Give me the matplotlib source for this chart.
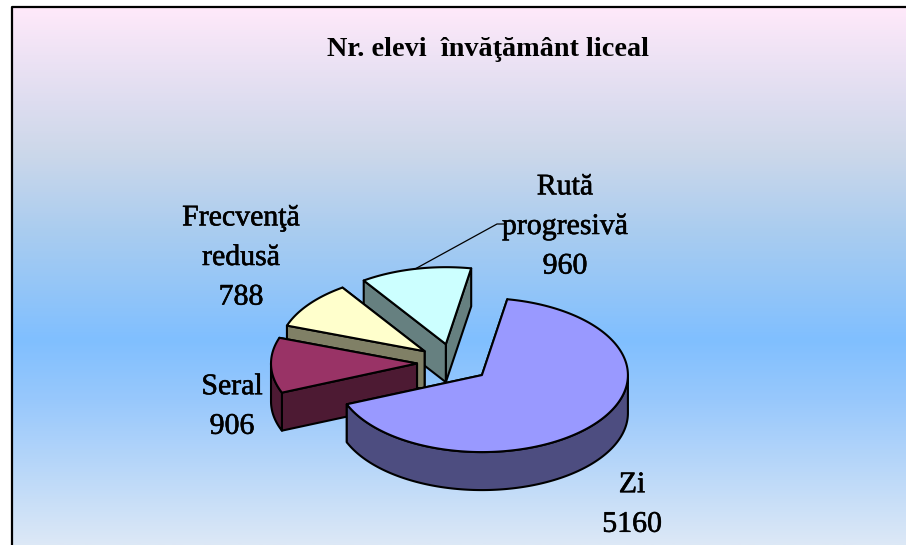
"""Exploded 3D-look pie of high school student numbers."""

import numpy as np
import matplotlib
matplotlib.use('Agg')
import matplotlib.pyplot as plt
import matplotlib.patheffects as pe
from matplotlib.colors import LinearSegmentedColormap
from matplotlib.patches import Polygon

# Data
categories = ['Zi', 'Seral', 'Frecvenţă\nredusă', 'Rută\nprogresivă']
values = [5160, 906, 788, 960]
top_colors = ['#9999FF', '#993366', '#FFFFCC', '#CCFFFF']
side_colors = ['#4D4D80', '#4D1A33', '#808066', '#668080']
title = 'Nr. elevi  învăţământ liceal'

# Pie geometry, in pixels
W, H = 906, 545
CX, CY = 453.5, 363 #center of unexploded pie
RX, RY = 146, 77    #ellipse radii
DEPTH = 38          #height of the pie
EXPLODE = 0.25      #offset of each slice, fraction of radius
START = 80          #start angle, slices run clockwise

plt.rcParams['font.family'] = ['Liberation Serif', 'DejaVu Serif']


def EllipsePoints(cx, cy, a1, a2):
    """Points on the slice arc between angles a1 and a2 (degrees).
    """
    n = max(int(abs(a2 - a1)) + 2, 2)
    a = np.radians(np.linspace(a1, a2, n))
    return np.column_stack((cx + RX * np.cos(a), cy - RY * np.sin(a)))


def Wall(ax, pts, color):
    """Extrude a line of points downward to make a side face.
    """
    low = pts[::-1] + np.array([0, DEPTH])
    ax.add_patch(Polygon(np.vstack((pts, low)), closed=True, facecolor=color,
                         edgecolor='black', linewidth=1.5, joinstyle='round'))


def DrawSlice(ax, a1, a2, top, side):
    """Draw one exploded slice going clockwise from a1 to a2.
    """
    mid = np.radians((a1 + a2) / 2)
    ax0 = CX + EXPLODE * RX * np.cos(mid)
    ay0 = CY - EXPLODE * RY * np.sin(mid)
    apex = np.array([ax0, ay0])
    #cut faces, back one first
    for ang in sorted([a1, a2], key=lambda t: -np.sin(np.radians(t))):
        Wall(ax, np.vstack((apex, EllipsePoints(ax0, ay0, ang, ang)[0])), side)
    #outer rim, only the part on the front half of the ellipse
    for k in range(-1, 1):
        lo = max(a2, -180 + 360 * k)
        hi = min(a1, 360 * k)
        if hi > lo:
            Wall(ax, EllipsePoints(ax0, ay0, hi, lo), side)
    arc = EllipsePoints(ax0, ay0, a1, a2)
    ax.add_patch(Polygon(np.vstack((apex, arc)), closed=True, facecolor=top,
                         edgecolor='black', linewidth=1.5, joinstyle='round'))
    return ax0, ay0


fig = plt.figure(figsize=(W / 100, H / 100), dpi=100, facecolor='white')
ax = fig.add_axes([0, 0, 1, 1])
ax.set_xlim(0, W)
ax.set_ylim(H, 0)
ax.axis('off')

#Background gradient
bg_stops = [(7, '#FFE9FA'), (100, '#DEDDF0'), (150, '#CDD8EA'), (235, '#A8CCF0'),
            (340, '#80BFFF'), (400, '#98C8FC'), (545, '#DCE8F6')]
cmap = LinearSegmentedColormap.from_list(
    'bg', [((y - 7) / (H - 7), c) for y, c in bg_stops])
grad = np.linspace(0, 1, 512).reshape(-1, 1)
ax.imshow(grad, cmap=cmap, extent=(12, W, H, 7), aspect='auto', zorder=0)
ax.set_xlim(0, W)
ax.set_ylim(H, 0)
ax.plot([11.5, 11.5, W], [H, 7, 7], color='black', linewidth=1.6, zorder=1)

#Slices, angles from the values
sweep = np.array(values) / sum(values) * 360
ends = START - np.cumsum(sweep)
starts = ends + sweep
apex = {}
for i in [3, 2, 1, 0]:
    apex[i] = DrawSlice(ax, starts[i], ends[i], top_colors[i], side_colors[i])

#Leader line of the last slice
mid = np.radians((starts[3] + ends[3]) / 2)
lx = apex[3][0] + RX * np.cos(mid)
ly = apex[3][1] - RY * np.sin(mid)
ax.plot([lx, 497, 504], [ly, 224, 224], color='black', linewidth=0.9)

#Text
ax.text(488, 50, title, fontsize=20.3, fontweight='bold', ha='center',
        va='center', color='black')
label_pos = [(632, 505), (232, 407), (241, 258), (565, 227)]
for cat, val, (x, y) in zip(categories, values, label_pos):
    txt = ax.text(x, y, '%s\n%d' % (cat, val), fontsize=21.5, ha='center',
                  va='center', color='black', linespacing=1.68)
    txt.set_path_effects([pe.withStroke(linewidth=0.4, foreground='black')])

fig.savefig('out.png', dpi=100)
